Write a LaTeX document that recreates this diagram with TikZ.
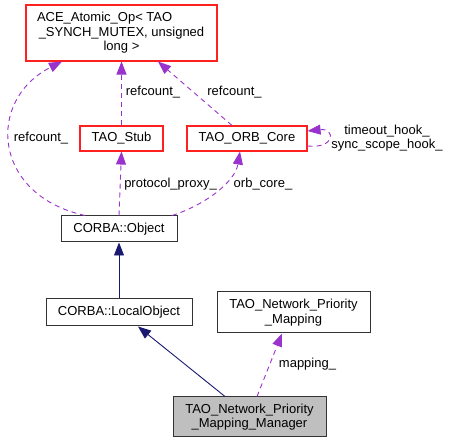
\documentclass[tikz,border=0pt]{standalone}
\usepackage{fontspec}
\setmainfont{Liberation Sans}
\usetikzlibrary{arrows.meta}
\definecolor{edgepurple}{HTML}{9A32CD}
\definecolor{edgenavy}{HTML}{191970}
\definecolor{boxred}{HTML}{FF2020}
\tikzset{
  every node/.style={font=\fontsize{13pt}{14.5pt}\selectfont, inner sep=0pt},
  cls/.style={draw=black!80, line width=1pt, fill=white, align=center},
  redcls/.style={cls, draw=boxred, line width=1.1pt},
  usage/.style={draw=edgepurple, line width=0.9pt, dash pattern=on 5pt off 4pt,
     -{Triangle[length=13pt,width=10pt,fill=edgepurple]}},
  inherit/.style={draw=edgenavy, line width=0.9pt,
     -{Triangle[length=13pt,width=10pt,fill=edgenavy]}},
  elabel/.style={align=center}
}
\begin{document}
\begin{tikzpicture}[x=1pt,y=-1pt]
\useasboundingbox (0,0) rectangle (450,443);
% nodes
\node[redcls, minimum width=191pt, minimum height=56pt] (ace) at (121.5,33)
  {\makebox[169pt][l]{ACE\_Atomic\_Op< TAO}\\\_SYNCH\_MUTEX, unsigned\\long >};
\node[redcls, minimum width=83pt, minimum height=25pt] (stub) at (121.5,138.5) {TAO\_Stub};
\node[redcls, minimum width=120pt, minimum height=25pt] (orb) at (247,138.5) {TAO\_ORB\_Core};
\node[cls, minimum width=116pt, minimum height=26pt] (obj) at (119,229) {CORBA::Object};
\node[cls, minimum width=146pt, minimum height=27pt] (lobj) at (119,312.5) {CORBA::LocalObject};
\node[cls, minimum width=153pt, minimum height=41pt] (npm) at (293.5,312.5) {TAO\_Network\_Priority\\\_Mapping};
\node[cls, fill=black!25, minimum width=153pt, minimum height=40pt] (mgr) at (249.5,417) {TAO\_Network\_Priority\\\_Mapping\_Manager};
% usage edges
\draw[usage] ([xshift=-34pt]obj.north) .. controls (-8,195) and (-14,100) .. ([xshift=-59.5pt]ace.south);
\draw[usage] (stub.north) -- (ace.south);
\draw[usage] ([xshift=-15pt]orb.north) -- ([xshift=36.5pt]ace.south);
\draw[usage] ([yshift=-7.5pt]orb.east) .. controls +(28,3) and +(28,-3) .. ([yshift=7.5pt]orb.east);
\draw[usage] (obj.north) -- (stub.south);
\draw[usage] ([xshift=53pt]obj.north) .. controls (205,205) and (235,182) .. ([xshift=-7pt]orb.south);
\draw[usage] ([xshift=7.5pt]mgr.north) -- ([xshift=-11.5pt]npm.south);
% inheritance edges
\draw[inherit] (lobj.north) -- (obj.south);
\draw[inherit] ([xshift=-24.5pt]mgr.north) -- ([xshift=19pt]lobj.south);
% labels
\node[elabel] (l1) at (41,138) {refcount\_};
\node[elabel] (l2) at (153,92) {refcount\_};
\node[elabel] (l3) at (234.5,92) {refcount\_};
\node[elabel] (l4) at (387,138) {timeout\_hook\_\\sync\_scope\_hook\_};
\node[elabel] (l5) at (170.5,184) {protocol\_proxy\_};
\node[elabel] (l6) at (263,184) {orb\_core\_};
\node[elabel] (l7) at (307.5,364) {mapping\_};
\end{tikzpicture}
\end{document}
